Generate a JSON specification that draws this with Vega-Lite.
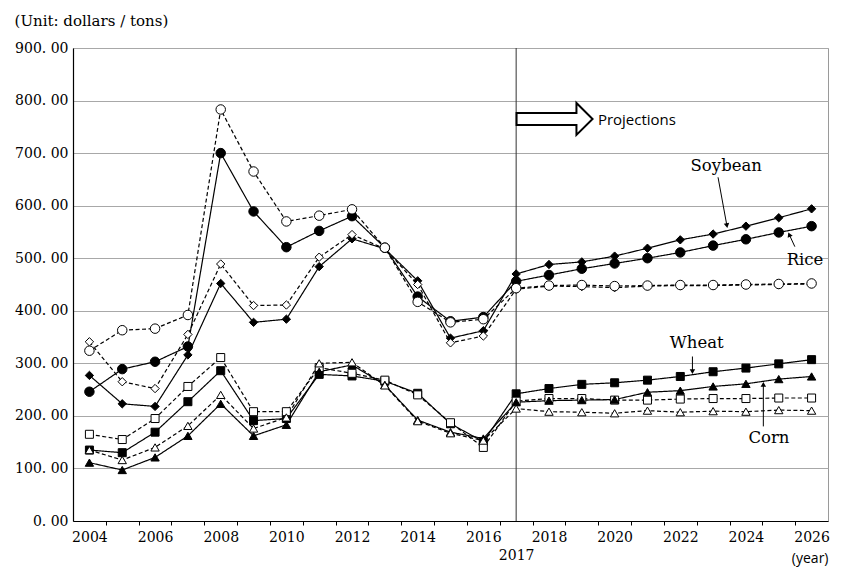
{
  "$schema": "https://vega.github.io/schema/vega-lite/v6.json",
  "width": 755,
  "height": 473,
  "autosize": {"type": "none"},
  "padding": {"left": 73, "top": 48, "right": 13, "bottom": 47},
  "background": "white",
  "config": {"view": {"stroke": "#9a9a9a", "strokeWidth": 1}, "font": "DejaVu Serif"},
  "title": {"text": "(Unit: dollars / tons)", "anchor": "start", "frame": "bounds", "font": "DejaVu Serif", "fontSize": 15, "fontWeight": "normal", "color": "black", "offset": 0, "baseline": "alphabetic"},
  "datasets": {
    "prices": [
      {"crop":"Soybean","type":"nominal","year":2004,"value":277},{"crop":"Soybean","type":"nominal","year":2005,"value":223},{"crop":"Soybean","type":"nominal","year":2006,"value":218},{"crop":"Soybean","type":"nominal","year":2007,"value":316},{"crop":"Soybean","type":"nominal","year":2008,"value":452},{"crop":"Soybean","type":"nominal","year":2009,"value":378},{"crop":"Soybean","type":"nominal","year":2010,"value":384},{"crop":"Soybean","type":"nominal","year":2011,"value":484},{"crop":"Soybean","type":"nominal","year":2012,"value":537},{"crop":"Soybean","type":"nominal","year":2013,"value":518},{"crop":"Soybean","type":"nominal","year":2014,"value":457},{"crop":"Soybean","type":"nominal","year":2015,"value":348},{"crop":"Soybean","type":"nominal","year":2016,"value":362},{"crop":"Soybean","type":"nominal","year":2017,"value":470},{"crop":"Soybean","type":"nominal","year":2018,"value":488},{"crop":"Soybean","type":"nominal","year":2019,"value":493},{"crop":"Soybean","type":"nominal","year":2020,"value":504},{"crop":"Soybean","type":"nominal","year":2021,"value":519},{"crop":"Soybean","type":"nominal","year":2022,"value":535},{"crop":"Soybean","type":"nominal","year":2023,"value":546},{"crop":"Soybean","type":"nominal","year":2024,"value":561},{"crop":"Soybean","type":"nominal","year":2025,"value":577},{"crop":"Soybean","type":"nominal","year":2026,"value":594},
      {"crop":"Soybean","type":"real","year":2004,"value":341},{"crop":"Soybean","type":"real","year":2005,"value":265},{"crop":"Soybean","type":"real","year":2006,"value":252},{"crop":"Soybean","type":"real","year":2007,"value":355},{"crop":"Soybean","type":"real","year":2008,"value":489},{"crop":"Soybean","type":"real","year":2009,"value":410},{"crop":"Soybean","type":"real","year":2010,"value":411},{"crop":"Soybean","type":"real","year":2011,"value":502},{"crop":"Soybean","type":"real","year":2012,"value":545},{"crop":"Soybean","type":"real","year":2013,"value":518},{"crop":"Soybean","type":"real","year":2014,"value":450},{"crop":"Soybean","type":"real","year":2015,"value":339},{"crop":"Soybean","type":"real","year":2016,"value":352},{"crop":"Soybean","type":"real","year":2017,"value":441},{"crop":"Soybean","type":"real","year":2018,"value":447},{"crop":"Soybean","type":"real","year":2019,"value":446},{"crop":"Soybean","type":"real","year":2020,"value":444},{"crop":"Soybean","type":"real","year":2021,"value":447},{"crop":"Soybean","type":"real","year":2022,"value":448},{"crop":"Soybean","type":"real","year":2023,"value":448},{"crop":"Soybean","type":"real","year":2024,"value":449},{"crop":"Soybean","type":"real","year":2025,"value":450},{"crop":"Soybean","type":"real","year":2026,"value":451},
      {"crop":"Rice","type":"nominal","year":2004,"value":246},{"crop":"Rice","type":"nominal","year":2005,"value":289},{"crop":"Rice","type":"nominal","year":2006,"value":303},{"crop":"Rice","type":"nominal","year":2007,"value":332},{"crop":"Rice","type":"nominal","year":2008,"value":700},{"crop":"Rice","type":"nominal","year":2009,"value":589},{"crop":"Rice","type":"nominal","year":2010,"value":521},{"crop":"Rice","type":"nominal","year":2011,"value":552},{"crop":"Rice","type":"nominal","year":2012,"value":580},{"crop":"Rice","type":"nominal","year":2013,"value":520},{"crop":"Rice","type":"nominal","year":2014,"value":427},{"crop":"Rice","type":"nominal","year":2015,"value":380},{"crop":"Rice","type":"nominal","year":2016,"value":388},{"crop":"Rice","type":"nominal","year":2017,"value":456},{"crop":"Rice","type":"nominal","year":2018,"value":468},{"crop":"Rice","type":"nominal","year":2019,"value":480},{"crop":"Rice","type":"nominal","year":2020,"value":490},{"crop":"Rice","type":"nominal","year":2021,"value":500},{"crop":"Rice","type":"nominal","year":2022,"value":511},{"crop":"Rice","type":"nominal","year":2023,"value":524},{"crop":"Rice","type":"nominal","year":2024,"value":536},{"crop":"Rice","type":"nominal","year":2025,"value":549},{"crop":"Rice","type":"nominal","year":2026,"value":561},
      {"crop":"Rice","type":"real","year":2004,"value":324},{"crop":"Rice","type":"real","year":2005,"value":363},{"crop":"Rice","type":"real","year":2006,"value":366},{"crop":"Rice","type":"real","year":2007,"value":392},{"crop":"Rice","type":"real","year":2008,"value":783},{"crop":"Rice","type":"real","year":2009,"value":665},{"crop":"Rice","type":"real","year":2010,"value":570},{"crop":"Rice","type":"real","year":2011,"value":581},{"crop":"Rice","type":"real","year":2012,"value":593},{"crop":"Rice","type":"real","year":2013,"value":520},{"crop":"Rice","type":"real","year":2014,"value":417},{"crop":"Rice","type":"real","year":2015,"value":378},{"crop":"Rice","type":"real","year":2016,"value":384},{"crop":"Rice","type":"real","year":2017,"value":443},{"crop":"Rice","type":"real","year":2018,"value":448},{"crop":"Rice","type":"real","year":2019,"value":449},{"crop":"Rice","type":"real","year":2020,"value":447},{"crop":"Rice","type":"real","year":2021,"value":448},{"crop":"Rice","type":"real","year":2022,"value":449},{"crop":"Rice","type":"real","year":2023,"value":449},{"crop":"Rice","type":"real","year":2024,"value":450},{"crop":"Rice","type":"real","year":2025,"value":451},{"crop":"Rice","type":"real","year":2026,"value":452},
      {"crop":"Wheat","type":"nominal","year":2004,"value":135},{"crop":"Wheat","type":"nominal","year":2005,"value":130},{"crop":"Wheat","type":"nominal","year":2006,"value":169},{"crop":"Wheat","type":"nominal","year":2007,"value":227},{"crop":"Wheat","type":"nominal","year":2008,"value":286},{"crop":"Wheat","type":"nominal","year":2009,"value":191},{"crop":"Wheat","type":"nominal","year":2010,"value":195},{"crop":"Wheat","type":"nominal","year":2011,"value":279},{"crop":"Wheat","type":"nominal","year":2012,"value":276},{"crop":"Wheat","type":"nominal","year":2013,"value":266},{"crop":"Wheat","type":"nominal","year":2014,"value":243},{"crop":"Wheat","type":"nominal","year":2015,"value":185},{"crop":"Wheat","type":"nominal","year":2016,"value":151},{"crop":"Wheat","type":"nominal","year":2017,"value":242},{"crop":"Wheat","type":"nominal","year":2018,"value":252},{"crop":"Wheat","type":"nominal","year":2019,"value":260},{"crop":"Wheat","type":"nominal","year":2020,"value":263},{"crop":"Wheat","type":"nominal","year":2021,"value":268},{"crop":"Wheat","type":"nominal","year":2022,"value":275},{"crop":"Wheat","type":"nominal","year":2023,"value":284},{"crop":"Wheat","type":"nominal","year":2024,"value":291},{"crop":"Wheat","type":"nominal","year":2025,"value":299},{"crop":"Wheat","type":"nominal","year":2026,"value":307},
      {"crop":"Wheat","type":"real","year":2004,"value":165},{"crop":"Wheat","type":"real","year":2005,"value":155},{"crop":"Wheat","type":"real","year":2006,"value":195},{"crop":"Wheat","type":"real","year":2007,"value":256},{"crop":"Wheat","type":"real","year":2008,"value":311},{"crop":"Wheat","type":"real","year":2009,"value":208},{"crop":"Wheat","type":"real","year":2010,"value":208},{"crop":"Wheat","type":"real","year":2011,"value":292},{"crop":"Wheat","type":"real","year":2012,"value":281},{"crop":"Wheat","type":"real","year":2013,"value":268},{"crop":"Wheat","type":"real","year":2014,"value":240},{"crop":"Wheat","type":"real","year":2015,"value":187},{"crop":"Wheat","type":"real","year":2016,"value":140},{"crop":"Wheat","type":"real","year":2017,"value":228},{"crop":"Wheat","type":"real","year":2018,"value":233},{"crop":"Wheat","type":"real","year":2019,"value":233},{"crop":"Wheat","type":"real","year":2020,"value":230},{"crop":"Wheat","type":"real","year":2021,"value":230},{"crop":"Wheat","type":"real","year":2022,"value":232},{"crop":"Wheat","type":"real","year":2023,"value":233},{"crop":"Wheat","type":"real","year":2024,"value":233},{"crop":"Wheat","type":"real","year":2025,"value":234},{"crop":"Wheat","type":"real","year":2026,"value":234},
      {"crop":"Corn","type":"nominal","year":2004,"value":111},{"crop":"Corn","type":"nominal","year":2005,"value":97},{"crop":"Corn","type":"nominal","year":2006,"value":121},{"crop":"Corn","type":"nominal","year":2007,"value":162},{"crop":"Corn","type":"nominal","year":2008,"value":223},{"crop":"Corn","type":"nominal","year":2009,"value":162},{"crop":"Corn","type":"nominal","year":2010,"value":183},{"crop":"Corn","type":"nominal","year":2011,"value":284},{"crop":"Corn","type":"nominal","year":2012,"value":297},{"crop":"Corn","type":"nominal","year":2013,"value":259},{"crop":"Corn","type":"nominal","year":2014,"value":192},{"crop":"Corn","type":"nominal","year":2015,"value":169},{"crop":"Corn","type":"nominal","year":2016,"value":157},{"crop":"Corn","type":"nominal","year":2017,"value":226},{"crop":"Corn","type":"nominal","year":2018,"value":229},{"crop":"Corn","type":"nominal","year":2019,"value":230},{"crop":"Corn","type":"nominal","year":2020,"value":231},{"crop":"Corn","type":"nominal","year":2021,"value":245},{"crop":"Corn","type":"nominal","year":2022,"value":248},{"crop":"Corn","type":"nominal","year":2023,"value":256},{"crop":"Corn","type":"nominal","year":2024,"value":261},{"crop":"Corn","type":"nominal","year":2025,"value":270},{"crop":"Corn","type":"nominal","year":2026,"value":275},
      {"crop":"Corn","type":"real","year":2004,"value":135},{"crop":"Corn","type":"real","year":2005,"value":116},{"crop":"Corn","type":"real","year":2006,"value":140},{"crop":"Corn","type":"real","year":2007,"value":181},{"crop":"Corn","type":"real","year":2008,"value":240},{"crop":"Corn","type":"real","year":2009,"value":176},{"crop":"Corn","type":"real","year":2010,"value":197},{"crop":"Corn","type":"real","year":2011,"value":300},{"crop":"Corn","type":"real","year":2012,"value":302},{"crop":"Corn","type":"real","year":2013,"value":258},{"crop":"Corn","type":"real","year":2014,"value":190},{"crop":"Corn","type":"real","year":2015,"value":167},{"crop":"Corn","type":"real","year":2016,"value":153},{"crop":"Corn","type":"real","year":2017,"value":214},{"crop":"Corn","type":"real","year":2018,"value":208},{"crop":"Corn","type":"real","year":2019,"value":207},{"crop":"Corn","type":"real","year":2020,"value":205},{"crop":"Corn","type":"real","year":2021,"value":210},{"crop":"Corn","type":"real","year":2022,"value":207},{"crop":"Corn","type":"real","year":2023,"value":209},{"crop":"Corn","type":"real","year":2024,"value":208},{"crop":"Corn","type":"real","year":2025,"value":211},{"crop":"Corn","type":"real","year":2026,"value":210}
    ],
    "labels": [
      {"label":"Soybean","year":2023.4,"value":675},
      {"label":"Rice","year":2025.8,"value":497},
      {"label":"Wheat","year":2022.5,"value":339},
      {"label":"Corn","year":2024.7,"value":158}
    ],
    "arrows": [
      {"label":"Soybean","year":2023.15,"value":654,"year2":2023.42,"value2":562},
      {"label":"Rice","year":2025.49,"value":522,"year2":2025.32,"value2":545},
      {"label":"Wheat","year":2022.37,"value":313,"year2":2022.37,"value2":284},
      {"label":"Corn","year":2024.53,"value":180,"year2":2024.53,"value2":260}
    ]
  },
  "encoding": {
    "x": {"field": "year", "type": "quantitative", "scale": {"domain": [2003.5, 2026.5], "nice": false, "zero": false},
      "axis": {"orient": "bottom",
        "values": [2004,2004.5,2005,2005.5,2006,2006.5,2007,2007.5,2008,2008.5,2009,2009.5,2010,2010.5,2011,2011.5,2012,2012.5,2013,2013.5,2014,2014.5,2015,2015.5,2016,2016.5,2017,2017.5,2018,2018.5,2019,2019.5,2020,2020.5,2021,2021.5,2022,2022.5,2023,2023.5,2024,2024.5,2025,2025.5,2026],
        "labelExpr": "datum.value % 2 == 0 ? format(datum.value, 'd') : (datum.value == 2017 ? ['', '2017'] : '')",
        "labelFont": "DejaVu Serif", "labelFontSize": 14, "labelColor": "black", "labelPadding": 5, "labelLineHeight": 18,
        "labelOverlap": false, "labelFlush": false,
        "ticks": true, "tickSize": 4, "tickColor": "black",
        "tickOpacity": {"condition": {"test": "datum.value % 1 == 0", "value": 0}, "value": 1},
        "domainColor": "black", "domainWidth": 1.2, "grid": false,
        "title": "(year)", "titleFont": "Open Sans", "titleFontSize": 14, "titleFontWeight": "normal", "titleColor": "black",
        "titleX": 755, "titleY": 41, "titleAlign": "right", "titleAnchor": "end", "titleBaseline": "alphabetic"}},
    "y": {"field": "value", "type": "quantitative", "scale": {"domain": [0, 900], "nice": false, "zero": true},
      "axis": {"orient": "left", "values": [0,100,200,300,400,500,600,700,800,900],
        "labelExpr": "replace(format(datum.value, '.2f'), '.', '. ')",
        "labelFont": "DejaVu Serif", "labelFontSize": 14, "labelColor": "black", "labelPadding": 5, "tickSize": 0,
        "labelOverlap": false, "labelFlush": false, "domainColor": "black", "domainWidth": 1.2,
        "grid": true, "gridColor": "#a8a8a8", "gridWidth": 1, "title": null}}
  },
  "layer": [
    {
      "data": {"values": [{"year": 2017}]},
      "mark": {"type": "rule", "color": "#333333", "strokeWidth": 1},
      "encoding": {"y": null}
    },
    {
      "data": {"name": "prices"},
      "mark": {"type": "line", "color": "black", "strokeWidth": 1.2},
      "encoding": {
        "detail": {"field": "crop", "type": "nominal"},
        "strokeDash": {"field": "type", "type": "nominal", "scale": {"domain": ["nominal", "real"], "range": [[1, 0], [4, 2.5]]}, "legend": null}
      }
    },
    {
      "data": {"name": "prices"},
      "mark": {"type": "point", "filled": true, "stroke": "black", "strokeWidth": 1, "opacity": 1},
      "encoding": {
        "shape": {"field": "crop", "type": "nominal", "scale": {"domain": ["Soybean", "Rice", "Wheat", "Corn"], "range": ["diamond", "circle", "square", "triangle-up"]}, "legend": null},
        "fill": {"field": "type", "type": "nominal", "scale": {"domain": ["nominal", "real"], "range": ["black", "white"]}, "legend": null},
        "size": {"field": "crop", "type": "nominal", "scale": {"type": "ordinal", "domain": ["Soybean", "Rice", "Wheat", "Corn"], "range": [70, 90, 64, 70]}, "legend": null}
      }
    },
    {
      "data": {"name": "labels"},
      "mark": {"type": "text", "font": "DejaVu Serif", "fontSize": 16.5, "color": "black", "align": "center", "baseline": "middle"},
      "encoding": {
        "text": {"field": "label"}
      }
    },
    {
      "data": {"name": "arrows"},
      "mark": {"type": "rule", "color": "black", "strokeWidth": 1},
      "encoding": {
        "x2": {"field": "year2"},
        "y2": {"field": "value2"}
      }
    },
    {
      "data": {"name": "arrows"},
      "mark": {"type": "point", "shape": "triangle-up", "filled": true, "color": "black", "size": 30, "opacity": 1},
      "encoding": {
        "x": {"field": "year2", "type": "quantitative"},
        "y": {"field": "value2", "type": "quantitative"},
        "angle": {"field": "label", "type": "nominal", "scale": {"type": "ordinal", "domain": ["Soybean", "Rice", "Wheat", "Corn"], "range": [170, 337, 180, 0]}, "legend": null}
      }
    },
    {
      "data": {"values": [{"year": 2018.17, "value": 765}]},
      "mark": {"type": "point", "shape": "M-1,-0.158 L0.576,-0.158 L0.576,-0.42 L1,0 L0.576,0.42 L0.576,0.158 L-1,0.158 Z", "size": 5776, "filled": true, "fill": "white", "stroke": "black", "strokeWidth": 2, "opacity": 1}
    },
    {
      "data": {"values": [{"label": "Projections", "year": 2019.49, "value": 763}]},
      "mark": {"type": "text", "font": "Open Sans", "fontSize": 15, "color": "black", "align": "left", "baseline": "middle"},
      "encoding": {
        "text": {"field": "label"}
      }
    }
  ]
}
